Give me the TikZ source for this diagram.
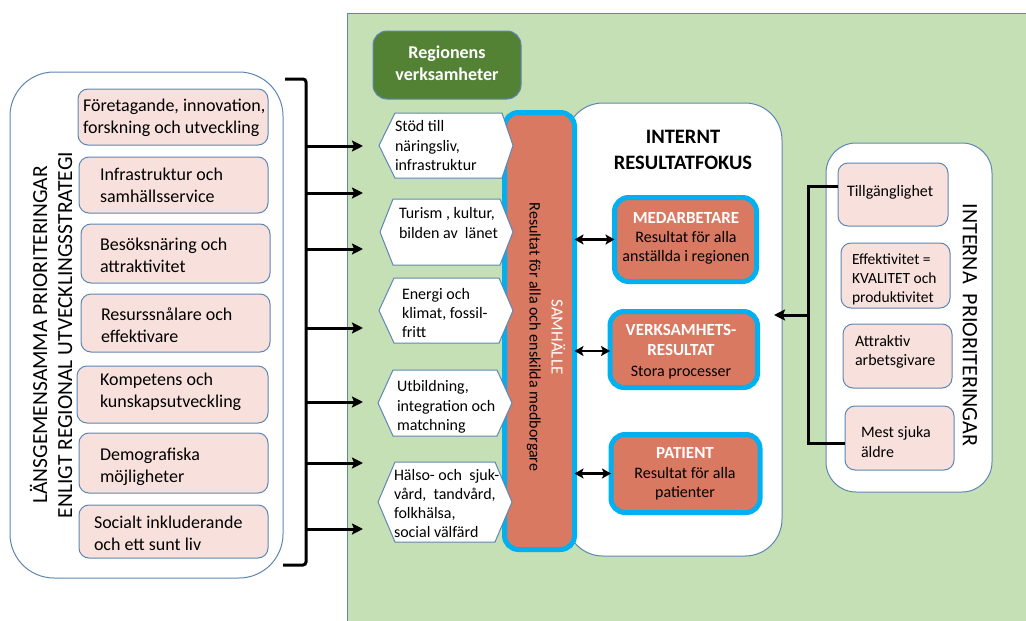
\documentclass[tikz,border=0pt]{standalone}
\usepackage{fontspec}
\setmainfont{Carlito}
\usetikzlibrary{arrows.meta}
\definecolor{bggreen}{HTML}{C5E0B4}
\definecolor{edgeblue}{HTML}{5E86B4}
\definecolor{pinkfill}{HTML}{F8E1DC}
\definecolor{salmon}{HTML}{DA7961}
\definecolor{cyanb}{HTML}{00B0F0}
\definecolor{darkgreen}{HTML}{548235}
\newcommand\fsz[2]{\fontsize{#1}{#2}\selectfont}
% \mkbox{name}{style}{x1}{y1}{x2}{y2}
\newcommand\mkbox[6]{\node[#2,minimum width={#5-#3},minimum height={#6-#4}] (#1) at ({(#3+#5)/2},{(#4+#6)/2}) {};}
% \hexa{name}{xtipleft}{x1}{x2}{xtipright}{y1}{y2}
\newcommand\hexa[7]{\mkbox{#1}{}{#3}{#6}{#4}{#7}%
  \path[hexline] (#1.north west) -- (#1.north east) -- (#5,{(#6+#7)/2}) -- (#1.south east) -- (#1.south west) -- (#2,{(#6+#7)/2}) -- cycle;}
\begin{document}
\begin{tikzpicture}[x=1pt,y=-1pt,
  every node/.style={inner sep=0pt, outer sep=0pt},
  bigbox/.style={draw=edgeblue, line width=1pt, fill=white, rounded corners=44pt},
  pinkbox/.style={draw=edgeblue, line width=1pt, fill=pinkfill, rounded corners=10pt},
  orbox/.style={draw=cyanb, line width=5pt, fill=salmon, rounded corners=14pt},
  hexline/.style={draw=edgeblue, line width=1pt, fill=white},
  ltxt/.style={align=left, font=\fsz{18}{22}, anchor=west},
  htxt/.style={align=left, font=\fsz{16}{19.5}, anchor=west},
  rtxt/.style={align=left, font=\fsz{16}{19.5}, anchor=west},
  otitle/.style={align=center, font=\bfseries\fsz{17}{20.5}, text=white},
  otxt/.style={align=center, font=\fsz{16}{19}},
  bracket/.style={line width=3pt, black},
  arr/.style={line width=3pt, -{Stealth[length=11pt,width=11pt,inset=2pt]}},
  darr/.style={line width=2.4pt, {Stealth[length=9pt,width=10pt,inset=2pt]}-{Stealth[length=9pt,width=10pt,inset=2pt]}},
]
\useasboundingbox (0,0) rectangle (1026,621);
\fill[white] (0,0) rectangle (1026,621);
% green area
\fill[bggreen] (347,13) rectangle (1026,621);
\draw[edgeblue, line width=1pt] (347,621) -- (347,13) -- (1026,13);

% left big box
\mkbox{L}{bigbox}{10}{72}{283}{578}
\mkbox{p1}{pinkbox}{78}{89}{268}{145}
\node[ltxt] (t1) at (83,118) {Företagande, innovation,\\forskning och utveckling};
\mkbox{p2}{pinkbox}{79}{157}{268}{213}
\node[ltxt] (t2) at (100,185) {Infrastruktur och\\samhällsservice};
\mkbox{p3}{pinkbox}{81}{224}{270}{283}
\node[ltxt] (t3) at (100,255) {Besöksnäring och\\attraktivitet};
\mkbox{p4}{pinkbox}{81}{294}{270}{352}
\node[ltxt] (t4) at (101,325) {Resurssnålare och\\effektivare};
\mkbox{p5}{pinkbox}{77}{366}{268}{423}
\node[ltxt] (t5) at (100,392) {Kompetens och\\kunskapsutveckling};
\mkbox{p6}{pinkbox}{79}{433}{268}{493}
\node[ltxt] (t6) at (100,467) {Demografiska\\möjligheter};
\mkbox{p7}{pinkbox}{79}{505}{268}{558}
\node[ltxt] (t7) at (94,533) {Socialt inkluderande\\och ett sunt liv};
\node[rotate=90, align=center, font=\fsz{21.5}{25}] (ltitle) at (51,335)
  {LÄNSGEMENSAMMA PRIORITERINGAR\\ENLIGT REGIONAL UTVECKLINGSSTRATEGI};

% left bracket and arrows
\coordinate (bt) at (285,79);
\coordinate (bb) at (283,565);
\draw[bracket, rounded corners=3pt] (bt) -- (306,79) -- (306,565) -- (bb);
\foreach \i/\y in {1/146,2/193,3/249,4/328,5/402,6/463,7/529}{
  \coordinate (s\i) at (306,\y);
  \coordinate (e\i) at (363,\y);
  \draw[arr] (s\i) -- (e\i);
}

% Regionens verksamheter
\mkbox{R}{draw=edgeblue, line width=1pt, fill=darkgreen, rounded corners=14pt}{373}{31}{521}{99}
\node[align=center, font=\bfseries\fsz{18}{22}, text=white] (Rt) at (447,63) {Regionens\\verksamheter};

% internt box
\mkbox{I}{draw=edgeblue, line width=1pt, fill=white, rounded corners=37pt}{566}{103}{782}{556}
\node[align=center, font=\bfseries\fsz{20.5}{26}] (It) at (683,150) {INTERNT\\RESULTATFOKUS};

% samhalle bar
\mkbox{S}{orbox}{504.5}{112.5}{574.5}{549.5}
\node[rotate=-90, align=center, font=\fsz{16}{22}] (St) at (546,337)
  {\textcolor{white}{\fsz{17}{22}SAMHÄLLE}\\Resultat för alla och enskilda medborgare};

% hexagons
\hexa{h1}{379}{395}{502}{513}{113}{178}
\node[htxt] (h1t) at (395,146) {Stöd till\\näringsliv,\\infrastruktur};
\hexa{h2}{380}{393}{500}{513}{199}{265}
\node[htxt] (h2t) at (399,223) {Turism , kultur,\\bilden av~~länet};
\hexa{h3}{379}{394}{499}{513}{278}{343}
\node[htxt] (h3t) at (402,313) {Energi och\\klimat, fossil-\\fritt};
\hexa{h4}{378}{393}{497}{512}{370}{436}
\node[htxt] (h4t) at (397,407) {Utbildning,\\integration och\\matchning};
\hexa{h5}{378}{395}{495}{512}{462}{542}
\node[htxt, font=\fsz{16}{19}] (h5t) at (394,503) {Hälso- och~~sjuk-\\vård,~~tandvård,\\folkhälsa,\\social välfärd};

% orange boxes
\mkbox{M}{orbox}{614.5}{197.5}{756.5}{281.5}
\node[otitle] (Mt) at (686,218) {MEDARBETARE};
\node[otxt] (Mx) at (686,248) {Resultat för alla\\anställda i regionen};
\mkbox{V}{orbox}{610}{311.5}{757.5}{387.5}
\node[otitle] (Vt) at (681,340) {VERKSAMHETS-\\RESULTAT};
\node[otxt] (Vx) at (681,373) {Stora processer};
\mkbox{P}{orbox}{611}{434.5}{760}{512.5}
\node[otitle] (Pt) at (685,453) {PATIENT};
\node[otxt] (Px) at (685,484) {Resultat för alla\\patienter};

\draw[darr] (S.east |- M.west) -- (M.west);
\draw[darr] ([yshift=-1.5pt]S.east |- V.west) -- ([yshift=-1.5pt]V.west);
\draw[darr] (S.east |- P.west) -- (P.west);

% right box
\mkbox{Q}{draw=edgeblue, line width=1pt, fill=white, rounded corners=30pt}{826}{143}{992}{492}
\mkbox{q1}{pinkbox}{838}{163}{948}{226}
\node[rtxt] (q1t) at (847,192) {Tillgänglighet};
\mkbox{q2}{pinkbox}{841}{243}{950}{308}
\node[rtxt, font=\fsz{15.5}{19}] (q2t) at (852,279) {Effektivitet =\\KVALITET och\\produktivitet};
\mkbox{q3}{pinkbox}{843}{324}{952}{388}
\node[rtxt] (q3t) at (855,352) {Attraktiv\\arbetsgivare};
\mkbox{q4}{pinkbox}{845}{406}{954}{470}
\node[rtxt] (q4t) at (861,442) {Mest sjuka\\äldre};
\node[rotate=-90, font=\fsz{22}{26}] (Qt) at (970,325) {INTERNA~~PRIORITERINGAR};

\coordinate (jr) at (808,315);
\coordinate (ja) at (774,315);
\draw[bracket] ([yshift=8pt]q1.west) -| (jr) |- ([yshift=-5pt]q4.west);
\draw[arr] (jr) -- (ja);
\end{tikzpicture}
\end{document}
